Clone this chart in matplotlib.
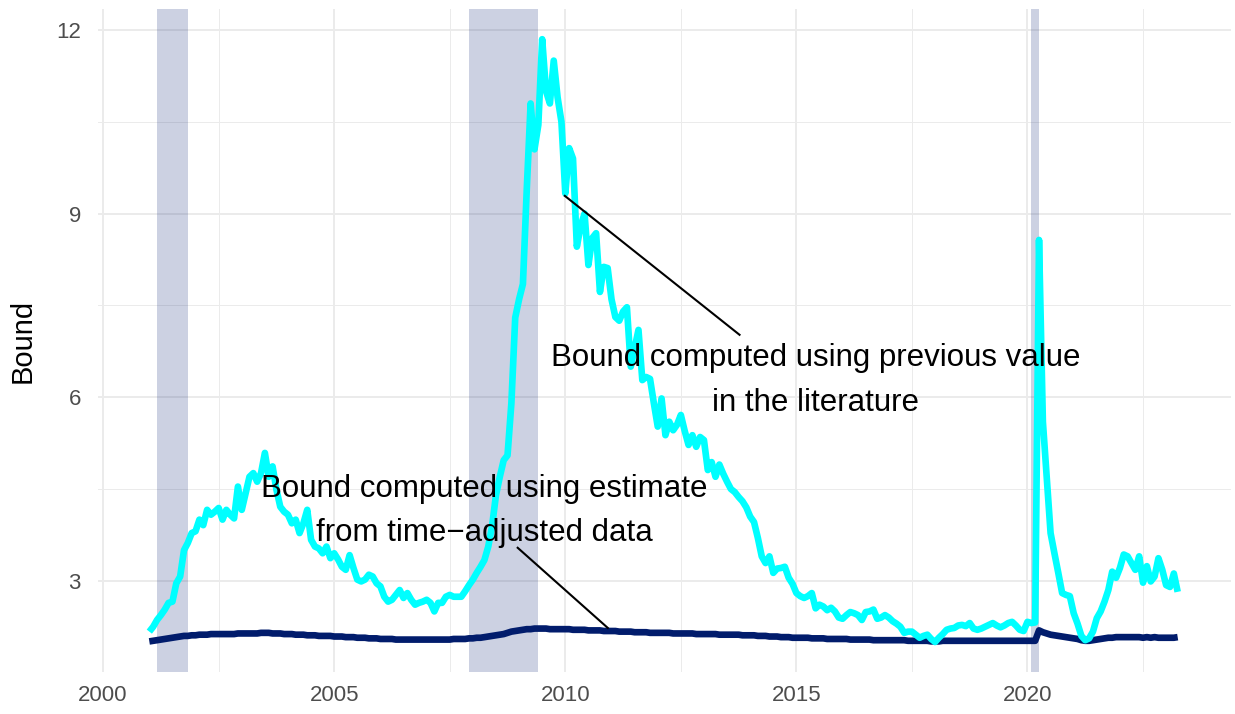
import numpy as np
import matplotlib
matplotlib.use("Agg")
import matplotlib.pyplot as plt
from matplotlib.ticker import FixedLocator

plt.rcParams['font.family'] = ['Liberation Sans', 'DejaVu Sans']

# ---- data (monthly, Jan 2001 .. Apr 2023) ----
start_year = 2001
n_months = 268
dates = start_year + np.arange(n_months) / 12.0

bound_literature = [
    # 2001
    2.17, 2.25, 2.36, 2.44, 2.53, 2.64, 2.66, 2.96, 3.07, 3.50, 3.62, 3.78,
    # 2002
    3.81, 4.00, 3.91, 4.16, 4.08, 4.13, 4.19, 4.00, 4.16, 4.08, 4.02, 4.54,
    # 2003
    4.16, 4.43, 4.70, 4.76, 4.62, 4.76, 5.09, 4.70, 4.87, 4.49, 4.21, 4.13,
    # 2004
    4.08, 3.94, 4.00, 3.78, 3.94, 4.16, 3.67, 3.56, 3.53, 3.45, 3.56, 3.37,
    # 2005
    3.45, 3.35, 3.23, 3.18, 3.42, 3.21, 3.02, 2.99, 3.02, 3.10, 3.07, 2.96,
    # 2006
    2.91, 2.74, 2.66, 2.69, 2.77, 2.85, 2.72, 2.80, 2.69, 2.61, 2.64, 2.66,
    # 2007
    2.69, 2.64, 2.50, 2.64, 2.64, 2.74, 2.77, 2.74, 2.74, 2.74, 2.83, 2.93,
    # 2008
    3.02, 3.13, 3.23, 3.34, 3.56, 3.90, 4.40, 4.70, 4.97, 5.05, 5.90, 7.30,
    # 2009
    7.60, 7.85, 9.40, 10.80, 10.05, 10.45, 11.85, 11.00, 10.80, 11.50, 10.90, 10.50,
    # 2010
    9.33, 10.07, 9.90, 8.46, 8.80, 9.00, 8.16, 8.60, 8.68, 7.72, 8.13, 8.11,
    # 2011
    7.60, 7.31, 7.25, 7.40, 7.47, 6.50, 6.80, 7.10, 6.28, 6.33, 6.30, 5.90,
    # 2012
    5.52, 5.98, 5.38, 5.60, 5.46, 5.55, 5.71, 5.45, 5.22, 5.38, 5.19, 5.35,
    # 2013
    5.30, 4.81, 4.94, 4.70, 4.90, 4.75, 4.62, 4.50, 4.45, 4.37, 4.30, 4.20,
    # 2014
    4.05, 3.96, 3.70, 3.40, 3.29, 3.40, 3.13, 3.20, 3.21, 3.23, 3.05, 2.95,
    # 2015
    2.80, 2.75, 2.72, 2.75, 2.80, 2.55, 2.61, 2.58, 2.52, 2.56, 2.50, 2.40,
    # 2016
    2.38, 2.44, 2.49, 2.47, 2.44, 2.36, 2.49, 2.50, 2.53, 2.38, 2.40, 2.44,
    # 2017
    2.40, 2.34, 2.30, 2.25, 2.15, 2.17, 2.17, 2.12, 2.07, 2.10, 2.12, 2.05,
    # 2018
    2.00, 2.07, 2.13, 2.20, 2.22, 2.23, 2.27, 2.28, 2.26, 2.31, 2.22, 2.20,
    # 2019
    2.22, 2.25, 2.28, 2.31, 2.27, 2.24, 2.27, 2.31, 2.33, 2.27, 2.20, 2.18,
    # 2020
    2.33, 2.31, 2.32, 8.57, 5.60, 4.70, 3.78, 3.45, 3.13, 2.80, 2.77, 2.75,
    # 2021
    2.47, 2.30, 2.10, 2.03, 2.06, 2.17, 2.39, 2.50, 2.66, 2.85, 3.15, 3.05,
    # 2022
    3.21, 3.43, 3.40, 3.29, 3.18, 3.40, 2.97, 3.24, 2.99, 3.07, 3.37, 3.18,
    # 2023
    2.93, 2.90, 3.12, 2.82,
]

bound_time_adjusted = [
    2.01, 2.02, 2.03, 2.04, 2.05, 2.06, 2.07, 2.08, 2.09, 2.10, 2.10, 2.11,
    2.11, 2.12, 2.12, 2.12, 2.13, 2.13, 2.13, 2.13, 2.13, 2.13, 2.13, 2.14,
    2.14, 2.14, 2.14, 2.14, 2.14, 2.15, 2.15, 2.15, 2.14, 2.14, 2.14, 2.13,
    2.13, 2.13, 2.12, 2.12, 2.12, 2.11, 2.11, 2.11, 2.10, 2.10, 2.10, 2.10,
    2.09, 2.09, 2.09, 2.08, 2.08, 2.08, 2.07, 2.07, 2.07, 2.06, 2.06, 2.06,
    2.05, 2.05, 2.05, 2.05, 2.04, 2.04, 2.04, 2.04, 2.04, 2.04, 2.04, 2.04,
    2.04, 2.04, 2.04, 2.04, 2.04, 2.04, 2.04, 2.05, 2.05, 2.05, 2.05, 2.06,
    2.06, 2.07, 2.07, 2.08, 2.09, 2.10, 2.11, 2.12, 2.13, 2.15, 2.17, 2.18,
    2.19, 2.20, 2.21, 2.21, 2.22, 2.22, 2.22, 2.22, 2.21, 2.21, 2.21, 2.21,
    2.21, 2.21, 2.20, 2.20, 2.20, 2.20, 2.19, 2.19, 2.19, 2.19, 2.18, 2.18,
    2.18, 2.18, 2.17, 2.17, 2.17, 2.17, 2.16, 2.16, 2.16, 2.16, 2.15, 2.15,
    2.15, 2.15, 2.15, 2.15, 2.14, 2.14, 2.14, 2.14, 2.14, 2.14, 2.13, 2.13,
    2.13, 2.13, 2.13, 2.13, 2.12, 2.12, 2.12, 2.12, 2.12, 2.12, 2.11, 2.11,
    2.11, 2.11, 2.10, 2.10, 2.10, 2.09, 2.09, 2.09, 2.08, 2.08, 2.08, 2.07,
    2.07, 2.07, 2.07, 2.07, 2.06, 2.06, 2.06, 2.06, 2.05, 2.05, 2.05, 2.05,
    2.05, 2.05, 2.04, 2.04, 2.04, 2.04, 2.04, 2.04, 2.03, 2.03, 2.03, 2.03,
    2.03, 2.03, 2.03, 2.03, 2.03, 2.02, 2.02, 2.02, 2.02, 2.02, 2.02, 2.01,
    2.01, 2.01, 2.02, 2.02, 2.02, 2.02, 2.02, 2.02, 2.02, 2.02, 2.02, 2.02,
    2.02, 2.02, 2.02, 2.02, 2.02, 2.02, 2.02, 2.02, 2.02, 2.02, 2.02, 2.02,
    2.02, 2.02, 2.02, 2.19, 2.16, 2.14, 2.12, 2.11, 2.10, 2.09, 2.08, 2.07,
    2.06, 2.05, 2.03, 2.02, 2.02, 2.03, 2.04, 2.05, 2.06, 2.07, 2.07, 2.08,
    2.08, 2.08, 2.08, 2.08, 2.08, 2.08, 2.07, 2.08, 2.07, 2.08, 2.07, 2.07,
    2.07, 2.07, 2.07, 2.08,
]

# recessions (decimal years)
recession_start = [2001 + 2/12, 2007 + 11/12, 2020 + 1/12]
recession_end = [2001 + 10/12, 2009 + 5/12, 2020 + 3/12]

label_literature = "Bound computed using previous value\nin the literature"
label_adjusted = "Bound computed using estimate\nfrom time\u2212adjusted data"
label_lit_pos = (2015.42, 6.28)
label_lit_seg = ((2009.99, 9.29), (2013.77, 7.02))
label_adj_pos = (2008.25, 4.14)
label_adj_seg = ((2008.97, 3.54), (2010.92, 2.23))

x_ticks = [2000, 2005, 2010, 2015, 2020]
y_ticks = [3, 6, 9, 12]

# ---- plot ----
fig = plt.figure(figsize=(12.35, 7.14), dpi=100)
ax = fig.add_axes([0.079, 0.0588, 0.918, 0.9283])

grid_col = '#EBEBEB'
ax.set_axisbelow(True)
ax.xaxis.set_major_locator(FixedLocator(x_ticks))
ax.xaxis.set_minor_locator(FixedLocator([2002.5, 2007.5, 2012.5, 2017.5, 2022.5]))
ax.yaxis.set_major_locator(FixedLocator(y_ticks))
ax.yaxis.set_minor_locator(FixedLocator([1.5, 4.5, 7.5, 10.5]))
ax.grid(which='major', color=grid_col, linewidth=1.4)
ax.grid(which='minor', color=grid_col, linewidth=0.7)

for s, e in zip(recession_start, recession_end):
    ax.axvspan(s, e, color='#001A6E', alpha=0.2, linewidth=0, zorder=1.5)

ax.plot(dates, bound_time_adjusted, color='#011C6C', linewidth=4.8,
        solid_capstyle='butt', zorder=3)
ax.plot(dates, bound_literature, color='#00FFFF', linewidth=4.8,
        solid_capstyle='butt', solid_joinstyle='round', zorder=4)

for seg in (label_lit_seg, label_adj_seg):
    (x0, y0), (x1, y1) = seg
    ax.plot([x0, x1], [y0, y1], color='black', linewidth=1.5, zorder=5)

ax.text(*label_lit_pos, label_literature, ha='center', va='center',
        fontsize=22.5, linespacing=1.65, color='black', zorder=6)
ax.text(*label_adj_pos, label_adjusted, ha='center', va='center',
        fontsize=22.5, linespacing=1.6, color='black', zorder=6)

ax.set_xlim(1999.88, 2024.41)
ax.set_ylim(1.51, 12.34)
ax.set_xticklabels([str(v) for v in x_ticks])
ax.set_yticklabels([str(v) for v in y_ticks])
ax.tick_params(which='both', length=0, labelsize=16, labelcolor='#4D4D4D')
ax.tick_params(axis='x', pad=9)
ax.tick_params(axis='y', pad=12)
for sp in ax.spines.values():
    sp.set_visible(False)
ax.set_ylabel('Bound', fontsize=21, color='black', labelpad=14)

fig.savefig('out.png', dpi=100)
